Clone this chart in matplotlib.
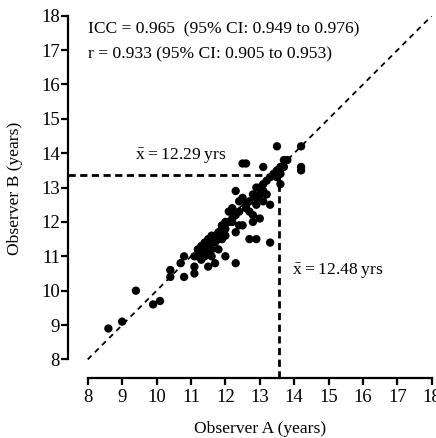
"""Inter-observer agreement scatter: Observer A vs Observer B age estimates."""

import matplotlib
matplotlib.use("Agg")
import matplotlib.pyplot as plt

plt.rcParams["font.family"] = ["Liberation Serif", "DejaVu Serif"]
plt.rcParams["mathtext.fontset"] = "custom"
plt.rcParams["mathtext.rm"] = "Liberation Serif"
plt.rcParams["mathtext.it"] = "Liberation Serif:italic"

# paired estimates (years)
observer_a = [
    8.6, 9.0, 9.4, 9.9, 10.1, 10.4, 10.4, 10.7, 10.8, 10.8,
    11.1, 11.1, 11.1, 11.2, 11.3, 11.4, 11.4, 11.5, 11.5, 11.5,
    11.6, 11.6, 11.7, 11.7, 11.8, 11.8, 11.9, 11.9, 12.0, 12.0,
    12.0, 12.1, 12.2, 12.3, 12.3, 12.3, 12.3, 12.5, 12.5, 12.5,
    12.6, 12.6, 12.7, 12.7, 12.8, 12.8, 12.8, 12.9, 12.9, 13.0,
    13.0, 13.1, 13.1, 13.1, 13.2, 13.3, 13.3, 13.4, 13.5, 13.5,
    13.6, 13.6, 13.7, 13.8, 14.2, 14.2, 14.2,
    11.2, 11.3, 11.4, 11.5, 11.6, 11.7, 11.3, 11.6, 11.8, 12.0,
    12.1, 12.2, 12.4, 12.4, 12.6, 12.7, 12.9, 13.0, 13.2, 13.3,
    13.5, 13.6, 12.4, 12.2, 11.9, 12.9, 13.1, 13.7,
]
observer_b = [
    8.9, 9.1, 10.0, 9.6, 9.7, 10.4, 10.6, 10.8, 11.0, 10.4,
    10.5, 10.7, 11.0, 11.2, 11.1, 11.0, 11.4, 11.3, 10.7, 11.5,
    11.2, 11.6, 10.8, 11.4, 11.5, 11.7, 11.9, 11.8, 11.0, 11.6,
    12.0, 12.3, 12.4, 11.7, 10.8, 12.9, 12.2, 12.7, 11.9, 13.7,
    13.7, 12.4, 12.3, 11.5, 12.8, 12.2, 12.0, 13.0, 11.5, 12.1,
    13.0, 12.6, 13.1, 13.6, 12.8, 12.5, 11.4, 13.4, 13.5, 14.2,
    13.6, 13.1, 13.8, 13.8, 14.2, 13.6, 13.5,
    11.0, 11.3, 11.2, 11.1, 11.4, 11.6, 10.9, 11.0, 11.2, 11.8,
    12.0, 12.1, 12.3, 12.6, 12.5, 12.6, 12.7, 12.8, 13.2, 13.3,
    13.3, 13.4, 11.9, 12.0, 11.5, 12.5, 12.9, 13.6,
]

identity = [8, 18]
mean_line_x = 13.57
mean_line_y = 13.36
mean_a_label = 12.48
mean_b_label = 12.29
stats_text = [
    "ICC = 0.965  (95% CI: 0.949 to 0.976)",
    "r = 0.933 (95% CI: 0.905 to 0.953)",
]
ticks = list(range(8, 19))

fig = plt.figure(figsize=(4.36, 4.38), dpi=100)
ax = fig.add_axes([0.157, 0.137, 0.8335, 0.8272])

ax.plot(identity, identity, linestyle=(0, (3, 2.6)), color="black", lw=1.3, zorder=1)
ax.plot([7.44, mean_line_x], [mean_line_y, mean_line_y],
        linestyle=(0, (2.6, 1.6)), color="black", lw=2.0, zorder=1)
ax.plot([mean_line_x, mean_line_x], [7.46, mean_line_y],
        linestyle=(0, (2.6, 1.6)), color="black", lw=2.0, zorder=1)
ax.scatter(observer_a, observer_b, s=36, color="black", edgecolors="none", zorder=2)

ax.text(8.0, 17.61, stats_text[0], fontsize=12.6, va="center", ha="left")
ax.text(8.0, 16.88, stats_text[1], fontsize=12.6, va="center", ha="left")
# thin spaces keep the mean labels as compact as in the original
ax.text(9.38, 13.94, r"$\bar{\mathrm{x}}$" + f"\u2009=\u2009{mean_b_label:.2f}\u2009yrs",
        fontsize=12.6, va="center", ha="left")
ax.text(13.94, 10.6, r"$\bar{\mathrm{x}}$" + f"\u2009=\u2009{mean_a_label:.2f}\u2009yrs",
        fontsize=12.6, va="center", ha="left")

ax.set_xlim(7.44, 18)
ax.set_ylim(7.46, 18)
ax.set_xticks(ticks)
ax.set_yticks(ticks)
ax.spines["top"].set_visible(False)
ax.spines["right"].set_visible(False)
ax.spines["left"].set_bounds(8, 18)
ax.spines["bottom"].set_bounds(8, 18)
for side in ("left", "bottom"):
    ax.spines[side].set_linewidth(1.6)
ax.tick_params(length=5, width=1.6, labelsize=13.5)
ax.tick_params(axis="y", pad=1)
ax.tick_params(axis="x", pad=3)

ax.set_xlabel("Observer A (years)", fontsize=12.6)
ax.set_ylabel("Observer B (years)", fontsize=12.6)
ax.xaxis.set_label_coords(0.527, -0.119)
ax.yaxis.set_label_coords(-0.125, 0.522)

fig.savefig("out.png", dpi=100)
plt.close(fig)
